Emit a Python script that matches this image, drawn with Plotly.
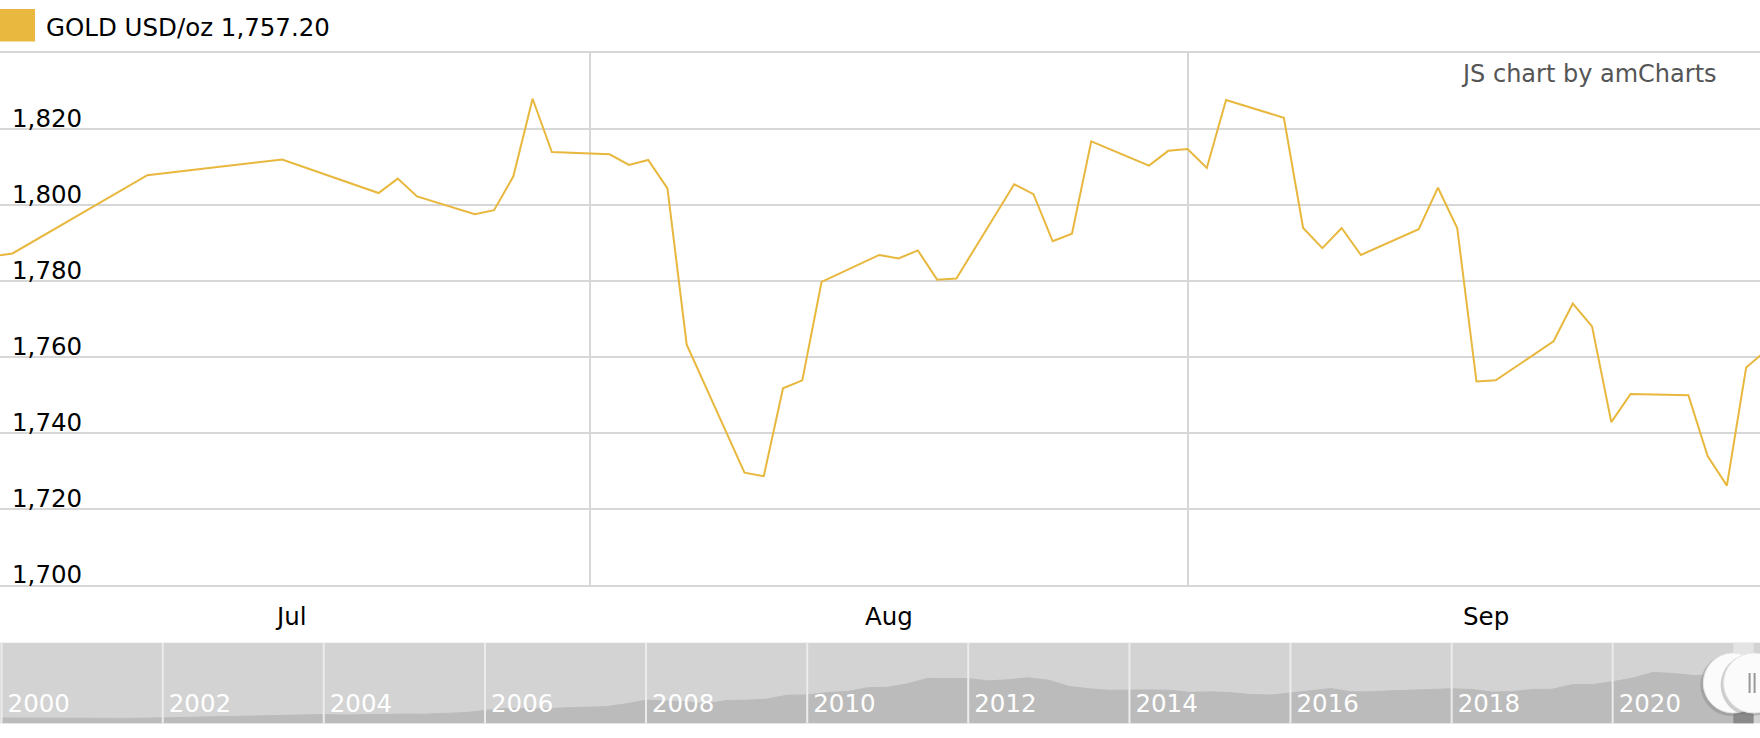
import plotly.graph_objects as go

# ---------------- data ----------------
dates = ["2021-06-25", "2021-07-02", "2021-07-09", "2021-07-16", "2021-07-21", "2021-07-22",
         "2021-07-23", "2021-07-26", "2021-07-27", "2021-07-28", "2021-07-29", "2021-07-30",
         "2021-08-02", "2021-08-03", "2021-08-04", "2021-08-05", "2021-08-06", "2021-08-09",
         "2021-08-10", "2021-08-11", "2021-08-12", "2021-08-13", "2021-08-16", "2021-08-17",
         "2021-08-18", "2021-08-19", "2021-08-20", "2021-08-23", "2021-08-24", "2021-08-25",
         "2021-08-26", "2021-08-27", "2021-08-30", "2021-08-31",
         "2021-09-01", "2021-09-02", "2021-09-03", "2021-09-06", "2021-09-07", "2021-09-08",
         "2021-09-09", "2021-09-10", "2021-09-13", "2021-09-14", "2021-09-15", "2021-09-16",
         "2021-09-17", "2021-09-20", "2021-09-21", "2021-09-22", "2021-09-23", "2021-09-24",
         "2021-09-27", "2021-09-28", "2021-09-29", "2021-09-30", "2021-10-01"]
prices = [1782.0, 1787.2, 1807.8, 1811.9, 1803.1, 1806.9, 1802.2, 1797.5, 1798.6, 1807.5, 1827.9, 1813.9,
          1813.3, 1810.5, 1811.8, 1804.3, 1763.2, 1729.5, 1728.6, 1751.7, 1753.8, 1779.7, 1786.8, 1785.9,
          1788.0, 1780.3, 1780.6, 1805.4, 1802.8, 1790.4, 1792.4, 1816.7, 1810.3, 1814.2,
          1814.7, 1809.7, 1827.6, 1822.9, 1793.9, 1788.6, 1793.9, 1786.8, 1793.6, 1804.5, 1793.9, 1753.5,
          1753.8, 1764.1, 1774.0, 1768.0, 1742.8, 1750.2, 1749.9, 1733.9, 1726.1, 1757.2, 1761.5]

y_ticks = [1700, 1720, 1740, 1760, 1780, 1800, 1820]
view_start = "2021-07-01 08:24"
view_end = "2021-09-30 17:15"
legend_date = "2021-09-30"

# scrollbar history (quarterly, USD/oz)
hist_years = list(range(2000, 2022))
hist_prices = [290, 285, 278, 272,
               265, 268, 275, 280,
               295, 315, 312, 325,
               345, 350, 370, 395,
               410, 395, 405, 435,
               428, 425, 445, 480,
               555, 625, 620, 615,
               650, 665, 690, 790,
               925, 895, 870, 795,
               910, 925, 960, 1100,
               1110, 1195, 1230, 1365,
               1385, 1505, 1700, 1690,
               1690, 1610, 1650, 1720,
               1630, 1415, 1330, 1275,
               1290, 1290, 1280, 1200,
               1220, 1195, 1125, 1105,
               1180, 1260, 1335, 1220,
               1220, 1255, 1280, 1280,
               1330, 1305, 1215, 1225,
               1305, 1310, 1475, 1480,
               1580, 1710, 1910, 1875,
               1800, 1815, 1790, 1760]
hist_dates = [f"{y}-{m}-01" for y in hist_years for m in ("01", "04", "07", "10")]
sel_start, sel_end = "2021-07-01", "2021-10-01"
sep_years = list(range(2000, 2022, 2))

GOLD = "#E8B73D"
GRID = "#d7d7d7"
FONT = "DejaVu Sans"
FS = 24.5
W, H = 1760, 738

fig = go.Figure()

fig.add_trace(go.Scatter(x=dates, y=prices, mode="lines",
                         line=dict(color=GOLD, width=2), xaxis="x", yaxis="y",
                         showlegend=False, hoverinfo="skip"))

# scrollbar graph
fig.add_trace(go.Scatter(x=hist_dates, y=hist_prices, mode="lines", fill="tozeroy",
                         line=dict(color="#bbbbbb", width=1), fillcolor="#bbbbbb",
                         xaxis="x2", yaxis="y2", showlegend=False, hoverinfo="skip"))
i0 = hist_dates.index(sel_start)
fig.add_trace(go.Scatter(x=hist_dates[i0:], y=hist_prices[i0:], mode="lines", fill="tozeroy",
                         line=dict(color="#8a8a8a", width=1), fillcolor="#8a8a8a",
                         xaxis="x2", yaxis="y2", showlegend=False, hoverinfo="skip"))

def py(px):
    return (H - px) / H

shapes = []
# scrollbar background
shapes.append(dict(type="rect", xref="x2 domain", yref="y2 domain", x0=0, x1=1, y0=0, y1=1,
                   fillcolor="#d3d3d3", line=dict(width=0), layer="below"))
shapes.append(dict(type="rect", xref="x2", yref="y2 domain", x0=sel_start, x1=sel_end, y0=0, y1=1,
                   fillcolor="#e4e4e4", line=dict(width=0), layer="below"))
for yv in sep_years:
    shapes.append(dict(type="line", xref="x2", yref="y2 domain", x0=f"{yv}-01-01", x1=f"{yv}-01-01",
                       y0=0, y1=1, line=dict(color="#ececec", width=2), layer="above"))
# handles
cy = py(683)
for anchor in (sel_start, sel_end):
    shapes.append(dict(type="circle", xref="x2", yref="paper", xsizemode="pixel", ysizemode="pixel",
                       xanchor=anchor, yanchor=cy, x0=-33, x1=29, y0=-33, y1=29,
                       fillcolor="rgba(120,120,120,0.35)", line=dict(width=0), layer="above"))
    shapes.append(dict(type="circle", xref="x2", yref="paper", xsizemode="pixel", ysizemode="pixel",
                       xanchor=anchor, yanchor=cy, x0=-30, x1=30, y0=-30, y1=30,
                       fillcolor="#fbfbfb", line=dict(color="#e6e6e6", width=1), layer="above"))
for dx in (-4, 1):
    shapes.append(dict(type="line", xref="x2", yref="paper", xsizemode="pixel", ysizemode="pixel",
                       xanchor=sel_end, yanchor=cy, x0=dx, x1=dx, y0=-10, y1=10,
                       line=dict(color="#999999", width=2), layer="above"))
# legend swatch
shapes.append(dict(type="rect", xref="paper", yref="paper", x0=0, x1=35 / W, y0=py(41.5), y1=py(9),
                   fillcolor="#E9B93F", line=dict(width=0)))

annotations = [
    dict(text=f"GOLD USD/oz {prices[dates.index(legend_date)]:,.2f}", xref="paper", yref="paper",
         x=44 / W, y=py(27), xanchor="left", yanchor="middle", showarrow=False,
         font=dict(family=FONT, size=FS, color="#000000")),
    dict(text="JS chart by amCharts", xref="paper", yref="paper", x=1719 / W, y=py(74),
         xanchor="right", yanchor="middle", showarrow=False,
         font=dict(family=FONT, size=24, color="#555555")),
]
# y-axis value labels sitting just above each grid line
for v in y_ticks:
    annotations.append(dict(text=f"{v:,}", xref="paper", yref="y", x=10 / W, y=v,
                            xanchor="left", yanchor="bottom", yshift=-6, showarrow=False,
                            font=dict(family=FONT, size=FS, color="#000000")))

fig.update_layout(
    width=W, height=H, margin=dict(l=0, r=0, t=0, b=0),
    paper_bgcolor="white", plot_bgcolor="white",
    font=dict(family=FONT, size=FS, color="#000000"),
    showlegend=False, shapes=shapes, annotations=annotations,
    xaxis=dict(domain=[0, 1], anchor="y", type="date", range=[view_start, view_end],
               tick0="2021-07-01", dtick="M1", ticklabelmode="period", tickformat="%b",
               showgrid=True, gridcolor=GRID, gridwidth=2, ticks="", ticklabelstandoff=9,
               showline=True, mirror=True, linecolor=GRID, linewidth=2, zeroline=False,
               tickfont=dict(family=FONT, size=FS, color="#000000"), fixedrange=True),
    yaxis=dict(domain=[py(584.8), py(52.8)], anchor="x", range=[1700, 1840],
               tickvals=y_ticks, showticklabels=False, ticks="",
               showgrid=True, gridcolor=GRID, gridwidth=2, zeroline=False, showline=False,
               fixedrange=True),
    xaxis2=dict(domain=[0, 1], anchor="y2", type="date", range=["1999-12-25", "2021-10-30"],
                tick0="2000-01-01", dtick="M24", tickformat="%Y", ticklabelposition="inside right",
                ticks="", showgrid=False, zeroline=False, showline=False, ticklabelstandoff=0,
                ticklabelshift=6,
                tickfont=dict(family=FONT, size=FS, color="#ffffff"), fixedrange=True),
    yaxis2=dict(domain=[py(723.3), py(642.7)], anchor="x2", range=[100, 2970],
                visible=False, fixedrange=True),
)

fig.write_html("out.html", config={"displayModeBar": False},
               post_script="document.body.style.margin='0px';document.body.style.overflow='hidden';")
